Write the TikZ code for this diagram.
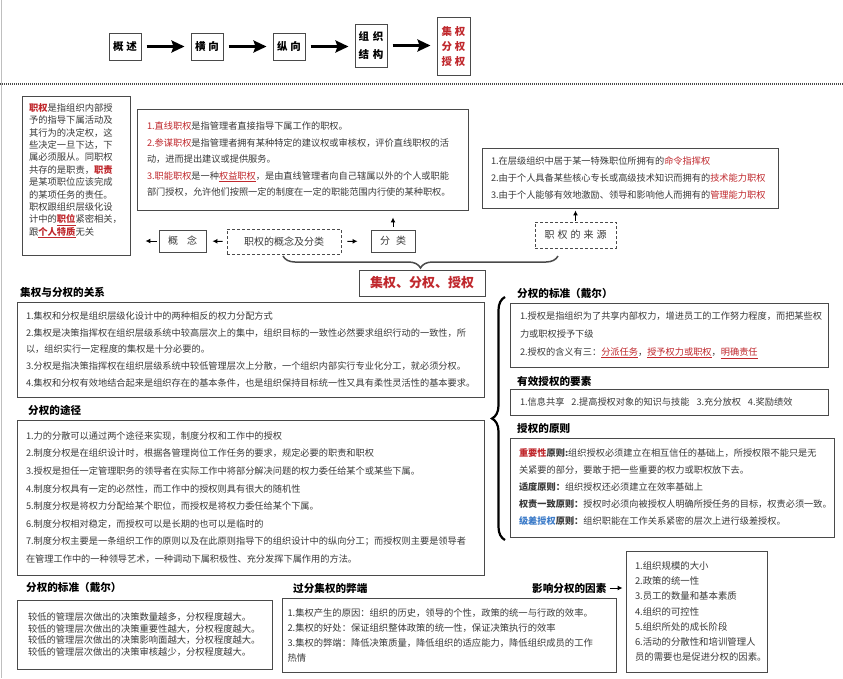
\documentclass[tikz,border=0pt]{standalone}
\usepackage{fontspec}
\setmainfont{Noto Sans CJK SC}
\usepackage{tikz}
\usetikzlibrary{arrows.meta, decorations.pathreplacing}
\setlength{\parindent}{0pt}
\definecolor{hired}{HTML}{C0282D}
\definecolor{hiblue}{HTML}{3D7CC9}
\definecolor{ink}{HTML}{3A3A3A}
\definecolor{edge}{HTML}{4A4A4A}
\newcommand{\redt}[1]{\textcolor{hired}{#1}}
\newcommand{\redb}[1]{\textcolor{hired}{\bfseries #1}}
\newcommand{\redu}[1]{\textcolor{hired}{\underline{#1}}}

\begin{document}
\begin{tikzpicture}[x=1pt, y=-1pt, font=\fontsize{9.2pt}{17pt}\selectfont]
  \tikzset{
    hbox/.style={draw=edge, line width=1pt, fill=white, minimum width=32pt, minimum height=27pt, inner sep=0pt, align=center, font=\fontsize{10.5pt}{13pt}\selectfont\bfseries},
    note/.style={draw=edge, line width=0.9pt, align=left, text=ink, inner ysep=0pt},
    ttl/.style={anchor=west, inner sep=0pt, font=\fontsize{10.6pt}{12pt}\selectfont\bfseries},
    tag/.style={draw=edge, line width=0.9pt, minimum height=22pt, inner sep=0pt, text=ink, font=\fontsize{10pt}{12pt}\selectfont},
    dtag/.style={tag, dash pattern=on 3pt off 2pt},
    flow/.style={-{Latex[length=5pt, width=5pt]}, line width=1pt},
    bigflow/.style={-{Stealth[length=13pt, width=12pt, inset=2pt]}, line width=2.4pt, shorten <=5pt, shorten >=6pt},
    topbrace/.style={decorate, decoration={brace, amplitude=12pt}, line width=1.5pt, edge},
    sidebrace/.style={decorate, decoration={brace, amplitude=13pt}, line width=2.2pt}
  }
  \fill[white] (0,0) rectangle (843,678);
  \useasboundingbox (0,0) rectangle (843,678);
  \draw[black!25, line width=1pt] (1,0) -- (1,678);

  % header chain
  \node[hbox] (gs) at (125,46.5) {概\hspace{3pt}述};
  \node[hbox] (hx) at (207,46.5) {横\hspace{3pt}向};
  \node[hbox] (zx) at (289,46.5) {纵\hspace{3pt}向};
  \node[hbox, minimum height=43pt, font=\fontsize{10.5pt}{18pt}\selectfont\bfseries] (zzjg) at (371,45.5) {组\hspace{4pt}织\\结\hspace{4pt}构};
  \node[hbox, minimum width=33pt, minimum height=58pt, text=hired, font=\fontsize{10.5pt}{15pt}\selectfont\bfseries] (jfs) at (453.5,46) {集\hspace{3pt}权\\分\hspace{3pt}权\\授\hspace{3pt}权};
  \foreach \a/\b in {gs/hx, hx/zx, zx/zzjg, zzjg/jfs}
    \draw[bigflow] (\a.east) -- (\b.west |- \a.east);

  \coordinate (sepL) at (0,84);
  \coordinate (sepR) at (843,84);
  \draw[edge, line width=1.3pt, dash pattern=on 1.2pt off 0.8pt] (sepL) -- (sepR);

  % authority: concept and classes
  \node[note, minimum width=108pt, minimum height=159pt, text width=94pt, inner xsep=7pt, font=\fontsize{9.3pt}{12.4pt}\selectfont] (zq) at (76,175.5) {%
    \redb{职权}是指组织内部授\\
    予的指导下属活动及\\
    其行为的决定权，这\\
    些决定一旦下达，下\\
    属必须服从。同职权\\
    共存的是职责，\redb{职责}\\
    是某项职位应该完成\\
    的某项任务的责任。\\
    职权跟组织层级化设\\
    计中的\redb{\underline{职位}}紧密相关，\\
    跟\redb{\underline{个人特质}}无关\\
    \mbox{}};
  \node[note, minimum width=331pt, minimum height=101pt, text width=311pt, inner xsep=10pt, font=\fontsize{9.2pt}{16.5pt}\selectfont] (flx) at (302.5,159.5) {%
    \redt{1.直线职权}是指管理者直接指导下属工作的职权。\\
    \redt{2.参谋职权}是指管理者拥有某种特定的建议权或审核权，评价直线职权的活\\
    动，进而提出建议或提供服务。\\
    \redt{3.职能职权}是一种\redu{权益职权}，是由直线管理者向自己辖属以外的个人或职能\\
    部门授权，允许他们按照一定的制度在一定的职能范围内行使的某种职权。};
  \node[note, minimum width=296pt, minimum height=60pt, text width=278pt, inner xsep=9pt] (ly) at (630,178) {%
    1.在层级组织中居于某一特殊职位所拥有的\redt{命令指挥权}\\
    2.由于个人具备某些核心专长或高级技术知识而拥有的\redt{技术能力职权}\\
    3.由于个人能够有效地激励、领导和影响他人而拥有的\redt{管理能力职权}};

  \node[tag, minimum width=47pt] (gn) at (182.5,241) {概\hspace{9pt}念};
  \node[dtag, minimum width=114pt, minimum height=25pt] (gnfl) at (284,241.5) {职权的概念及分类};
  \node[tag, minimum width=44pt] (fl) at (393,241) {分\hspace{6pt}类};
  \node[dtag, minimum width=81pt, minimum height=26pt] (src) at (575.5,235) {职\hspace{3pt}权\hspace{3pt}的\hspace{3pt}来\hspace{3pt}源};
  \draw[flow, shorten <=4pt, shorten >=6pt] (gnfl.west) -- (gn.east);
  \draw[flow, shorten <=2pt, shorten >=15pt] (gn.west) -- (zq.east |- gn.west);
  \draw[flow, shorten <=6pt, shorten >=13pt] (gnfl.east) -- (fl.west);
  \draw[flow, shorten <=3pt, shorten >=7pt] (fl.north) -- (fl.north |- flx.south);
  \draw[flow, shorten <=1pt, shorten >=2pt] (src.north) -- (src.north |- ly.south);

  \coordinate (brL) at (283,256);
  \coordinate (brR) at (558,256);
  \draw[topbrace] (brR) -- (brL);
  \node[tag, minimum width=126pt, minimum height=26pt, text=hired, font=\fontsize{13pt}{15pt}\selectfont\bfseries] (jfq) at (422,283) {集权、分权、授权};

  % left column
  \node[ttl] (t1) at (20,292) {集权与分权的关系};
  \node[note, minimum width=467pt, minimum height=95pt, text width=449pt, inner xsep=9pt, font=\fontsize{9.2pt}{16.8pt}\selectfont] (b1) at (250.5,349.5) {%
    1.集权和分权是组织层级化设计中的两种相反的权力分配方式\\
    2.集权是决策指挥权在组织层级系统中较高层次上的集中，组织目标的一致性必然要求组织行动的一致性，所\\
    以，组织实行一定程度的集权是十分必要的。\\
    3.分权是指决策指挥权在组织层级系统中较低管理层次上分散，一个组织内部实行专业化分工，就必须分权。\\
    4.集权和分权有效地结合起来是组织存在的基本条件，也是组织保持目标统一性又具有柔性灵活性的基本要求。};
  \node[ttl] (t2) at (28,410) {分权的途径};
  \node[note, minimum width=467pt, minimum height=155pt, text width=449pt, inner xsep=9pt, font=\fontsize{9.2pt}{17.6pt}\selectfont] (b2) at (250.5,497.5) {%
    1.力的分散可以通过两个途径来实现，制度分权和工作中的授权\\
    2.制度分权是在组织设计时，根据各管理岗位工作任务的要求，规定必要的职责和职权\\
    3.授权是担任一定管理职务的领导者在实际工作中将部分解决问题的权力委任给某个或某些下属。\\
    4.制度分权具有一定的必然性，而工作中的授权则具有很大的随机性\\
    5.制度分权是将权力分配给某个职位，而授权是将权力委任给某个下属。\\
    6.制度分权相对稳定，而授权可以是长期的也可以是临时的\\
    7.制度分权主要是一条组织工作的原则以及在此原则指导下的组织设计中的纵向分工；而授权则主要是领导者\\
    在管理工作中的一种领导艺术，一种调动下属积极性、充分发挥下属作用的方法。};
  \node[ttl] (t3) at (26,587) {分权的标准（戴尔）};
  \node[note, minimum width=255pt, minimum height=69pt, text width=233pt, inner xsep=11pt, font=\fontsize{9.3pt}{11.8pt}\selectfont] (b3) at (144.5,634.5) {%
    较低的管理层次做出的决策数量越多，分权程度越大。\\
    较低的管理层次做出的决策重要性越大，分权程度越大。\\
    较低的管理层次做出的决策影响面越大，分权程度越大。\\
    较低的管理层次做出的决策审核越少，分权程度越大。};
  \node[ttl] (t4) at (293,588) {过分集权的弊端};
  \node[note, minimum width=334pt, minimum height=74pt, text width=323pt, inner xsep=5.5pt, font=\fontsize{9.3pt}{15pt}\selectfont] (b4) at (449,635) {%
    1.集权产生的原因：组织的历史，领导的个性，政策的统一与行政的效率。\\
    2.集权的好处：保证组织整体政策的统一性，保证决策执行的效率\\
    3.集权的弊端：降低决策质量，降低组织的适应能力，降低组织成员的工作\\
    热情};
  \node[ttl] (t5) at (532,588) {影响分权的因素};
  \node[note, minimum width=141pt, minimum height=121pt, text width=123pt, inner xsep=9pt, font=\fontsize{9.4pt}{15.3pt}\selectfont] (b5) at (696.5,611.5) {%
    1.组织规模的大小\\
    2.政策的统一性\\
    3.员工的数量和基本素质\\
    4.组织的可控性\\
    5.组织所处的成长阶段\\
    6.活动的分散性和培训管理人\\
    员的需要也是促进分权的因素。};
  \draw[flow, shorten <=3pt, shorten >=3pt] (t5.east) -- (b5.west |- t5.east);

  % right column
  \coordinate (bgB) at (505,540);
  \coordinate (bgT) at (505,297);
  \draw[sidebrace] (bgB) -- (bgT);
  \node[ttl] (t6) at (517,293) {分权的标准（戴尔）};
  \node[note, minimum width=318pt, minimum height=64pt, text width=298pt, inner xsep=10pt, font=\fontsize{9.2pt}{18pt}\selectfont] (b6) at (669,335) {%
    1.授权是指组织为了共享内部权力，增进员工的工作努力程度，而把某些权\\
    力或职权授予下级\\
    2.授权的含义有三：\redu{分派任务}，\redu{授予权力或职权}，\redu{明确责任}};
  \node[ttl] (t7) at (517,381) {有效授权的要素};
  \node[note, minimum width=318pt, minimum height=26pt, text width=298pt, inner xsep=10pt] (b7) at (669,402) {%
    1.信息共享\hspace{7pt}2.提高授权对象的知识与技能\hspace{7pt}3.充分放权\hspace{7pt}4.奖励绩效};
  \node[ttl] (t8) at (517,428) {授权的原则};
  \node[note, minimum width=324pt, minimum height=99pt, text width=306pt, inner xsep=9pt] (b8) at (672,487.5) {%
    \redb{重要性}\textbf{原则:}组织授权必须建立在相互信任的基础上，所授权限不能只是无\\
    关紧要的部分，要敢于把一些重要的权力或职权放下去。\\
    \textbf{适度原则：}组织授权还必须建立在效率基础上\\
    \textbf{权责一致原则：}授权时必须向被授权人明确所授任务的目标，权责必须一致。\\
    \textcolor{hiblue}{\bfseries 级差授权}\textbf{原则：}组织职能在工作关系紧密的层次上进行级差授权。};
\end{tikzpicture}
\end{document}
